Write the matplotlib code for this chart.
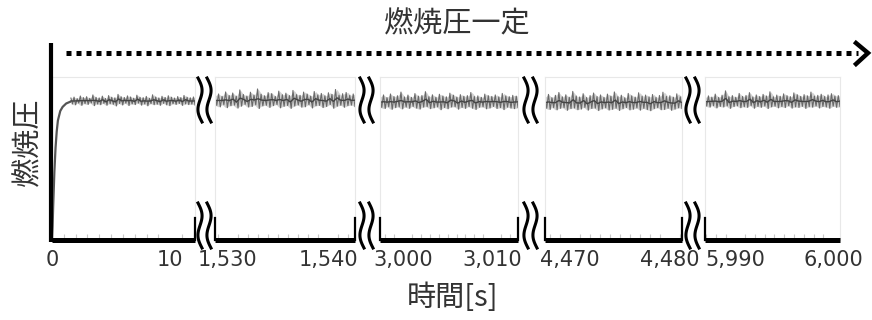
import numpy as np
import matplotlib
matplotlib.use("Agg")
import matplotlib.pyplot as plt
from matplotlib.lines import Line2D

plt.rcParams['font.family'] = ['Noto Sans CJK JP', 'DejaVu Sans']

W, H = 872, 320

# ---- data -------------------------------------------------------------
title = "燃焼圧一定"
ylabel = "燃焼圧"
xlabel = "時間[s]"

panel_xlim = [(0.0, 12.1), (1528.7, 1542.7), (2997.4, 3012.9), (4467.5, 4481.2), (5986.9, 6000.7)]
panel_ticks = [[0, 10], [1530, 1540], [3000, 3010], [4470, 4480], [5990, 6000]]
panel_ticklabels = [["0", "10"], ["1,530", "1,540"], ["3,000", "3,010"], ["4,470", "4,480"], ["5,990", "6,000"]]

# start-up rise of the first segment
rise_t = [0.0, 0.05, 0.1, 0.2, 0.3, 0.4, 0.5, 0.7, 0.9, 1.2, 1.6]
rise_v = [0.0, 10.0, 25.0, 50.0, 68.0, 80.0, 88.0, 95.0, 98.0, 100.5, 102.0]

# upper / lower swings of the measured pressure in each segment
p1_hi = [104.5, 105.2, 104.1, 106.0, 104.8, 105.5, 104.3, 106.8, 105.0, 104.6, 105.9, 104.2, 106.3, 105.1, 104.7, 107.2, 105.4, 104.9, 106.1, 105.3,
         104.4, 106.6, 105.0, 104.8, 105.7, 104.3, 106.9, 105.2, 104.6, 105.8, 104.9, 106.2, 105.1, 104.5, 105.6, 104.8, 106.4, 105.0, 104.7, 105.3]
p1_lo = [100.2, 99.5, 100.8, 99.1, 100.4, 99.8, 100.9, 98.9, 100.1, 99.6, 100.6, 99.2, 100.3, 99.9, 98.7, 100.5, 99.4, 100.7, 99.0, 100.2,
         99.7, 100.8, 99.3, 100.1, 98.8, 100.4, 99.6, 100.0, 99.2, 100.6, 99.5, 98.9, 100.3, 99.8, 100.5, 99.1, 100.2, 99.7, 100.0, 99.4]
p2_hi = [106.1, 107.5, 105.8, 109.0, 106.4, 108.2, 105.9, 110.5, 107.1, 106.0, 108.8, 106.7, 111.2, 107.3, 106.2, 108.5, 107.8, 105.7, 109.6, 106.9,
         108.1, 106.3, 110.1, 107.0, 106.5, 108.9, 107.4, 105.9, 109.3, 106.8, 107.9, 106.1, 108.4, 107.2, 110.8, 106.6, 107.7, 108.6, 106.4, 107.5]
p2_lo = [99.1, 98.0, 99.6, 97.4, 98.8, 99.3, 97.1, 98.5, 99.8, 97.9, 98.3, 99.5, 96.8, 98.7, 99.2, 97.6, 98.9, 99.7, 97.3, 98.4,
         99.0, 96.9, 98.6, 99.4, 97.8, 98.1, 99.6, 97.2, 98.8, 99.1, 97.5, 98.3, 99.7, 97.0, 98.5, 99.2, 97.7, 98.9, 99.3, 98.2]
p3_hi = [105.2, 106.8, 104.9, 107.5, 105.6, 106.2, 108.9, 105.3, 106.7, 105.0, 107.8, 105.9, 106.4, 109.2, 105.5, 106.9, 105.1, 107.3, 106.0, 105.4,
         108.1, 106.6, 105.2, 107.0, 105.8, 106.3, 108.6, 105.6, 106.1, 105.0, 107.4, 106.2, 105.7, 106.8, 105.3, 107.9, 106.0, 105.5, 106.5, 105.9]
p3_lo = [97.6, 96.8, 98.1, 96.2, 97.4, 98.0, 96.5, 97.9, 96.9, 98.3, 97.1, 96.4, 97.8, 98.2, 96.7, 97.3, 98.0, 95.9, 97.5, 96.6,
         97.9, 98.1, 96.3, 97.6, 96.9, 98.2, 97.0, 96.1, 97.7, 98.0, 96.6, 97.2, 98.3, 96.8, 97.4, 96.0, 97.8, 97.1, 96.7, 97.5]
p4_hi = [105.0, 107.2, 104.8, 106.5, 108.6, 105.4, 106.9, 105.1, 109.4, 106.0, 105.3, 107.7, 104.9, 106.3, 108.2, 105.6, 106.8, 105.0, 107.4, 105.9,
         109.0, 105.5, 106.6, 104.7, 107.9, 106.1, 105.2, 108.4, 105.8, 106.7, 105.3, 107.1, 104.9, 106.4, 108.8, 105.7, 106.2, 105.1, 107.6, 105.4]
p4_lo = [97.0, 96.1, 97.5, 95.8, 96.9, 97.4, 95.5, 96.7, 97.2, 95.9, 96.4, 97.6, 95.6, 96.8, 97.1, 95.3, 96.5, 97.3, 95.7, 96.2,
         97.0, 95.4, 96.6, 97.5, 95.8, 96.3, 97.2, 95.6, 96.9, 96.0, 95.2, 96.7, 97.4, 95.9, 96.1, 97.0, 95.5, 96.4, 97.3, 96.8]
p5_hi = [104.8, 106.1, 105.2, 107.4, 105.0, 106.6, 109.8, 105.5, 106.3, 105.1, 107.9, 105.7, 106.4, 108.5, 105.3, 106.8, 105.6, 107.2, 106.0, 109.1,
         105.4, 106.7, 105.8, 107.6, 106.2, 105.5, 108.3, 106.9, 105.7, 107.0, 106.1, 108.9, 105.9, 106.5, 107.3, 105.6, 106.8, 107.7, 105.9, 106.3]
p5_lo = [98.6, 97.8, 98.9, 97.2, 98.4, 97.9, 98.7, 96.9, 98.2, 98.8, 97.4, 98.1, 97.6, 98.9, 97.0, 98.3, 97.7, 98.6, 96.8, 98.0,
         98.5, 97.3, 98.2, 97.5, 98.8, 97.1, 98.0, 97.6, 98.4, 96.9, 98.1, 97.8, 98.6, 97.2, 98.3, 97.9, 97.0, 98.5, 97.7, 98.2]

panel_hi = [p1_hi, p2_hi, p3_hi, p4_hi, p5_hi]
panel_lo = [p1_lo, p2_lo, p3_lo, p4_lo, p5_lo]
YMAX = 120.0

# ---- layout (pixel boxes: left, right) ---------------------------------
panel_px = [(52, 195), (215, 355), (380, 518), (545, 682), (705, 840)]
AX_TOP, AX_BOT = 77, 240
gap_centres = [205, 367, 531, 693]

TXT = '#333333'
fig = plt.figure(figsize=(W / 100, H / 100), dpi=100)


def fx(x):
    return x / W


def fy(y):
    return 1 - y / H


for i, ((l, r), xl) in enumerate(zip(panel_px, panel_xlim)):
    ax = fig.add_axes([fx(l), fy(AX_BOT), (r - l) / W, (AX_BOT - AX_TOP) / H])
    ax.set_xlim(*xl)
    ax.set_ylim(0, YMAX)
    for s in ('top', 'left', 'right'):
        ax.spines[s].set_color('#e8e8e8')
        ax.spines[s].set_linewidth(0.8)
    ax.spines['bottom'].set_color('black')
    ax.spines['bottom'].set_linewidth(3.6)
    ax.spines['bottom'].set_capstyle('butt')
    ax.set_yticks([])

    hi = np.array(panel_hi[i])
    lo = np.array(panel_lo[i])
    if i == 0:
        t0 = rise_t[-1]
        ax.plot(rise_t, rise_v, color='#555555', lw=1.6, solid_capstyle='butt')
    else:
        t0 = xl[0]
    n = len(hi)
    t = np.linspace(t0, xl[1], n)
    # the trace swings up and down between consecutive samples
    ts = np.linspace(t0, xl[1], 2 * n)
    trace = np.empty(2 * n)
    trace[0::2] = hi
    trace[1::2] = lo
    ax.fill_between(t, lo, hi, color='#d2d2d2', lw=0)
    ax.plot(ts, trace, color='#5e5e5e', lw=0.8, alpha=0.9)
    ax.plot(t, (hi + lo) / 2, color='#444444', lw=1.0)

    ax.set_xticks(panel_ticks[i])
    ax.set_xticklabels(panel_ticklabels[i], fontsize=15, color=TXT,
                       family=['DejaVu Sans'])
    ax.tick_params(axis='x', which='major', length=0, pad=7)
    ax.set_xticks(np.arange(np.ceil(xl[0]), xl[1], 1.0), minor=True)
    ax.tick_params(axis='x', which='minor', direction='in', length=4,
                   width=0.8, color='#c8c8c8')

    # short end markers at each break
    if i > 0:
        fig.add_artist(Line2D([fx(l), fx(l)], [fy(218), fy(240)], color='black', lw=1.6))
    if i < len(panel_px) - 1:
        fig.add_artist(Line2D([fx(r), fx(r)], [fy(218), fy(240)], color='black', lw=1.6))

# y axis
fig.add_artist(Line2D([fx(51), fx(51)], [fy(43), fy(242)], color='black', lw=3.0,
                      solid_capstyle='butt'))

# break symbols
u = np.linspace(0, 1, 60)
for xc in gap_centres:
    for off in (-5, 4):
        for y0, y1 in ((78, 122), (203, 248)):
            ys = y0 + u * (y1 - y0)
            xs = xc + off + 3.0 * np.sin(2 * np.pi * u) + (u - 0.5) * 4
            fig.add_artist(Line2D(fx(xs), fy(ys), color='black', lw=2.2))

# dotted arrow across the top
fig.add_artist(Line2D([fx(66), fx(858)], [fy(53), fy(53)], color='black', lw=3.6,
                      linestyle=(0, (1.0, 1.0)), dash_capstyle='butt'))
fig.add_artist(Line2D([fx(856), fx(868), fx(856)], [fy(43), fy(53), fy(64)],
                      color='black', lw=3.2, solid_joinstyle='miter'))

fig.text(fx(457), fy(24), title, fontsize=21, color=TXT, ha='center', va='center')
fig.text(fx(28), fy(142), ylabel, fontsize=21, color=TXT, ha='center', va='center',
         rotation=90)
fig.text(fx(453), fy(298), xlabel, fontsize=21, color=TXT, ha='center', va='center')

fig.savefig('out.png', dpi=100)
